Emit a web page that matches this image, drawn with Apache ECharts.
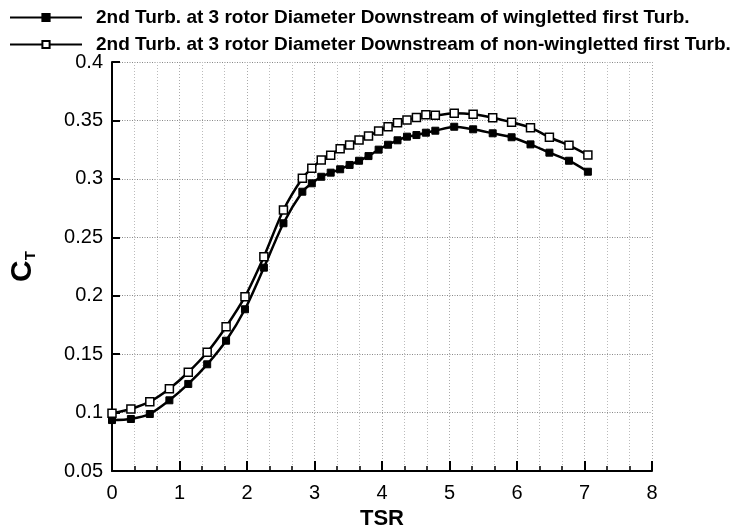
<!DOCTYPE html>
<html>
<head>
<meta charset="utf-8">
<script src="https://cdn.jsdelivr.net/npm/echarts@6/dist/echarts.min.js"></script>
<style>
  html, body { margin: 0; padding: 0; background: #fff; }
  #chart { width: 747px; height: 528px; }
</style>
</head>
<body>
<div id="chart"></div>
<script>
// Tip speed ratio at which the thrust coefficient was evaluated
const tsr = [0, 0.28, 0.56, 0.85, 1.13, 1.41, 1.69, 1.97, 2.25, 2.54,
  2.82, 2.96, 3.10, 3.24, 3.38, 3.52, 3.66, 3.80, 3.95, 4.09, 4.23, 4.37, 4.51, 4.65, 4.79,
  5.07, 5.35, 5.64, 5.92, 6.20, 6.48, 6.77, 7.05];

// C_T of the downstream turbine behind a wingletted first turbine
const ctWingletted = [0.0936, 0.0945, 0.0988, 0.1105, 0.1245, 0.1413, 0.1615, 0.1884, 0.2240, 0.2620,
  0.2890, 0.2962, 0.3018, 0.3053, 0.3082, 0.3119, 0.3155, 0.3195, 0.3250, 0.3292, 0.3330, 0.3361, 0.3375, 0.3395, 0.3412,
  0.3446, 0.3424, 0.3390, 0.3356, 0.3295, 0.3224, 0.3155, 0.3061];

// C_T of the downstream turbine behind a non-wingletted first turbine
const ctNonWingletted = [0.0994, 0.1031, 0.1093, 0.1204, 0.1345, 0.1516, 0.1735, 0.1992, 0.2334, 0.2733,
  0.3005, 0.3090, 0.3161, 0.3201, 0.3258, 0.3290, 0.3332, 0.3367, 0.3410, 0.3446, 0.3480, 0.3504, 0.3525, 0.3548, 0.3545,
  0.3561, 0.3552, 0.3523, 0.3484, 0.3438, 0.3356, 0.3287, 0.3204];

const seriesNames = [
  '2nd Turb. at 3 rotor Diameter Downstream of wingletted first Turb.',
  '2nd Turb. at 3 rotor Diameter Downstream of non-wingletted first Turb.'
];

const font = "'Liberation Sans', Arial, sans-serif";

// Pick the largest bold legend size whose longest entry stays within the available width
function legendFontSize(text, maxWidth) {
  const ctx = document.createElement('canvas').getContext('2d');
  let size = 22;
  while (size > 10) {
    ctx.font = 'bold ' + size + "px 'Liberation Sans', Arial, sans-serif";
    if (ctx.measureText(text).width <= maxWidth) break;
    size -= 0.5;
  }
  return size;
}
const legendSize = legendFontSize(seriesNames[1], 645);

const pairs = (xs, ys) => xs.map((x, i) => [x, ys[i]]);

const chart = echarts.init(document.getElementById('chart'), null, { renderer: 'canvas' });

chart.setOption({
  animation: false,
  backgroundColor: '#fff',
  legend: {
    orient: 'vertical',
    left: 9,
    top: 8,
    padding: 0,
    itemWidth: 72,
    itemHeight: 9,
    itemGap: 8,
    textStyle: {
      fontFamily: font,
      fontWeight: 'bold',
      fontSize: legendSize,
      color: '#000',
      padding: [0, 0, 0, 9]
    },
    data: seriesNames
  },
  grid: { left: 112, right: 95, top: 62, bottom: 57, containLabel: false, outerBoundsMode: 'none' },
  xAxis: {
    type: 'value',
    min: 0,
    max: 8,
    interval: 1,
    name: 'TSR',
    nameLocation: 'middle',
    nameGap: 34,
    nameTextStyle: { fontFamily: font, fontWeight: 'bold', fontSize: 22, color: '#000' },
    axisLine: { show: true, lineStyle: { color: '#000', width: 2 } },
    axisTick: { show: true, inside: true, length: 10, lineStyle: { color: '#000', width: 2 } },
    minorTick: { show: true, splitNumber: 3, length: 5, lineStyle: { color: '#000', width: 1.5 } },
    axisLabel: { fontFamily: font, fontSize: 20, color: '#000', margin: 12 },
    splitLine: { show: true, lineStyle: { color: '#aaa', type: [1, 2], width: 1 } },
    minorSplitLine: { show: true, lineStyle: { color: '#bbb', type: [1, 2], width: 1 } }
  },
  yAxis: {
    type: 'value',
    min: 0.05,
    max: 0.4,
    interval: 0.05,
    name: '{c|C}{t|T}',
    nameLocation: 'middle',
    nameGap: 74,
    nameRotate: 90,
    nameTextStyle: {
      rich: {
        c: { fontFamily: font, fontWeight: 'bold', fontSize: 30, color: '#000', verticalAlign: 'bottom', lineHeight: 34 },
        t: { fontFamily: font, fontWeight: 'bold', fontSize: 15, color: '#000', verticalAlign: 'bottom', lineHeight: 26 }
      }
    },
    axisLine: { show: true, lineStyle: { color: '#000', width: 2 } },
    axisTick: { show: true, inside: true, length: 8, lineStyle: { color: '#000', width: 2 } },
    axisLabel: { fontFamily: font, fontSize: 20, color: '#000', margin: 9 },
    splitLine: { show: true, lineStyle: { color: '#888', type: [1, 1.5], width: 1 } }
  },
  series: [
    {
      name: seriesNames[0],
      type: 'line',
      data: pairs(tsr, ctWingletted),
      smooth: 0.25,
      symbol: 'rect',
      symbolSize: 7,
      lineStyle: { color: '#000', width: 2.5 },
      itemStyle: { color: '#000', borderColor: '#000', borderWidth: 1 },
      z: 3
    },
    {
      name: seriesNames[1],
      type: 'line',
      data: pairs(tsr, ctNonWingletted),
      smooth: 0.25,
      symbol: 'rect',
      symbolSize: 8,
      lineStyle: { color: '#000', width: 2.5 },
      itemStyle: { color: '#fff', borderColor: '#000', borderWidth: 1.5 },
      z: 4
    }
  ]
});
</script>
</body>
</html>
